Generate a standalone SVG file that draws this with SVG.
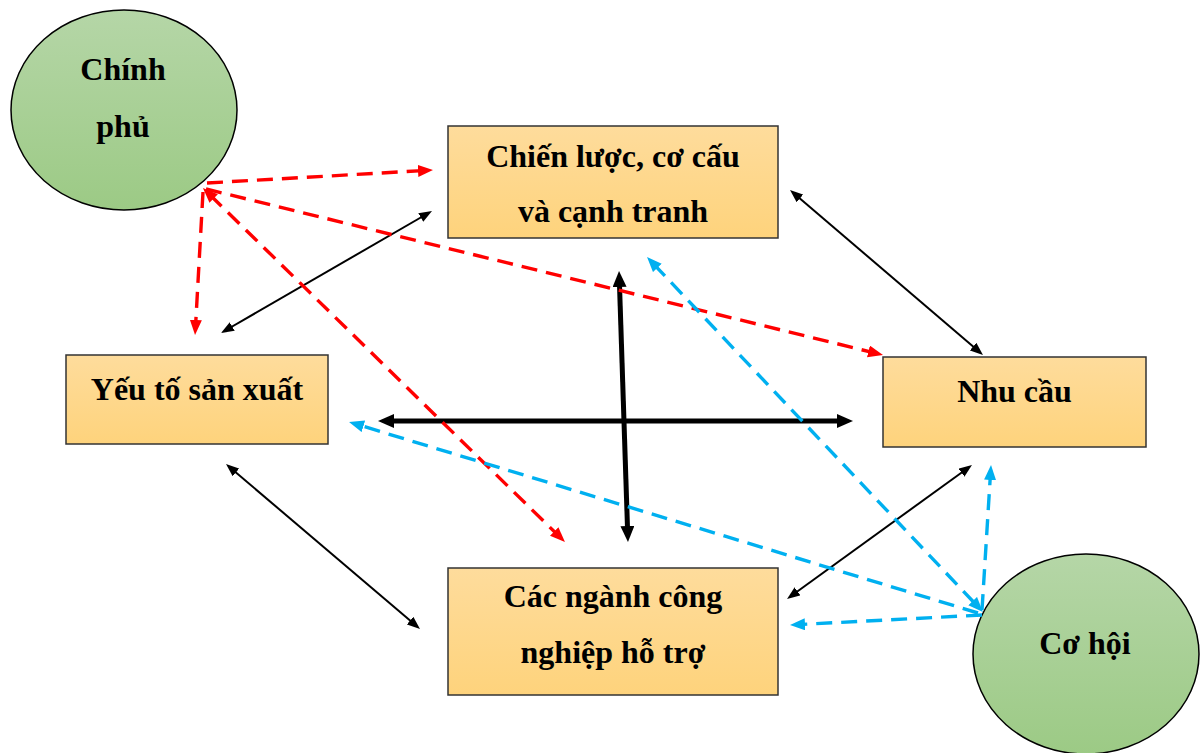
<svg xmlns="http://www.w3.org/2000/svg" width="1204" height="753" viewBox="0 0 1204 753">
<style>
.box{stroke:#333;stroke-width:1.5;fill:url(#gBox)}
.ell{stroke:#000;stroke-width:1.5;fill:url(#gEll)}
.t{font-family:"Liberation Serif","Times New Roman",serif;font-weight:bold;font-size:32px;fill:#000;text-anchor:middle}
.thin{stroke:#000;stroke-width:2;fill:none;marker-start:url(#aThin);marker-end:url(#aThin)}
.thick{stroke:#000;stroke-width:5;fill:none;marker-start:url(#aThick);marker-end:url(#aThick)}
.red{stroke:#ff0000;stroke-width:3.4;fill:none;stroke-dasharray:16 9;marker-end:url(#aRed)}
.red2{marker-start:url(#aRed)}
.blue{stroke:#00b0f0;stroke-width:3.4;fill:none;stroke-dasharray:16 9;marker-end:url(#aBlue)}
.blue2{marker-start:url(#aBlue)}
</style>
<defs>
<linearGradient id="gBox" x1="0" y1="0" x2="0" y2="1">
<stop offset="0" stop-color="#fedc9c"/>
<stop offset="1" stop-color="#fed37c"/>
</linearGradient>
<linearGradient id="gEll" x1="0" y1="0" x2="0" y2="1">
<stop offset="0" stop-color="#b5d6a7"/>
<stop offset="1" stop-color="#9cca85"/>
</linearGradient>
<marker id="aThin" markerUnits="userSpaceOnUse" markerWidth="14" markerHeight="11" refX="5" refY="5" orient="auto-start-reverse"><path d="M0,0 L13,5 L0,10 z" fill="#000"/></marker>
<marker id="aThick" markerUnits="userSpaceOnUse" markerWidth="17" markerHeight="15" refX="5" refY="7" orient="auto-start-reverse"><path d="M0,0 L16,7 L0,14 z" fill="#000"/></marker>
<marker id="aRed" markerUnits="userSpaceOnUse" markerWidth="16" markerHeight="13" refX="5" refY="6" orient="auto-start-reverse"><path d="M0,0 L15,6 L0,12 z" fill="#ff0000"/></marker>
<marker id="aBlue" markerUnits="userSpaceOnUse" markerWidth="16" markerHeight="13" refX="5" refY="6" orient="auto-start-reverse"><path d="M0,0 L15,6 L0,12 z" fill="#00b0f0"/></marker>
</defs>
<rect width="1204" height="753" fill="#fff"/>
<g id="chinh-phu">
<ellipse class="ell" cx="124" cy="110" rx="113" ry="100"/>
<text class="t" x="123" y="80">Chính</text>
<text class="t" x="123" y="137">phủ</text>
</g>
<g id="chien-luoc">
<rect class="box" x="448" y="126" width="330" height="112"/>
<text class="t" x="613" y="167">Chiến lược, cơ cấu</text>
<text class="t" x="613" y="222">và cạnh tranh</text>
</g>
<g id="yeu-to">
<rect class="box" x="66" y="355" width="262" height="89"/>
<text class="t" x="197" y="400">Yếu tố sản xuất</text>
</g>
<g id="nhu-cau">
<rect class="box" x="883" y="357" width="263" height="90"/>
<text class="t" x="1014.5" y="402">Nhu cầu</text>
</g>
<g id="cac-nganh">
<rect class="box" x="448" y="568" width="330" height="127"/>
<text class="t" x="613" y="607">Các ngành công</text>
<text class="t" x="613" y="663">nghiệp hỗ trợ</text>
</g>
<g id="co-hoi">
<ellipse class="ell" cx="1086" cy="654" rx="113" ry="100"/>
<text class="t" x="1085" y="654">Cơ hội</text>
</g>
<g id="connectors">
<line class="thin" x1="425.1" y1="215" x2="227.9" y2="329"/>
<line class="thin" x1="796.1" y1="195.2" x2="976.9" y2="349.8"/>
<line class="thin" x1="232.1" y1="469.2" x2="413.9" y2="623.8"/>
<line class="thin" x1="965.5" y1="469.7" x2="793.5" y2="594.3"/>
<line class="thick" x1="389" y1="421" x2="842" y2="421"/>
<line class="thick" x1="619.4" y1="282" x2="627.6" y2="531"/>
<line class="red" x1="207" y1="183" x2="423" y2="170.6"/>
<line class="red" x1="203" y1="192" x2="195.6" y2="325"/>
<line class="red" x1="206" y1="189" x2="873.3" y2="352.6"/>
<line class="red red2" x1="210.1" y1="195" x2="557.8" y2="535"/>
<line class="blue blue2" x1="653.9" y1="264.3" x2="976.1" y2="604.7"/>
<line class="blue" x1="978" y1="613" x2="358.6" y2="424.9"/>
<line class="blue" x1="982" y1="615" x2="800" y2="624.5"/>
<line class="blue" x1="982" y1="610" x2="990.4" y2="475"/>
</g>
</svg>
